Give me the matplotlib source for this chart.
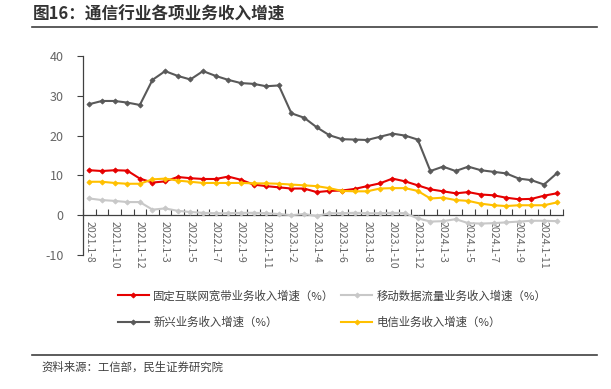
import matplotlib
matplotlib.use("Agg")
import matplotlib.pyplot as plt
from matplotlib.lines import Line2D
import numpy as np

plt.rcParams['font.family'] = ['Noto Sans CJK SC', 'DejaVu Sans']
plt.rcParams['axes.unicode_minus'] = False

categories = (['2021.1-%d' % m for m in range(8, 13)] +
              ['2022.1-%d' % m for m in range(2, 13)] +
              ['2023.1-%d' % m for m in range(2, 13)] +
              ['2024.1-%d' % m for m in range(2, 13)])

broadband = [11.3, 11.1, 11.3, 11.2, 9.2, 8.2, 8.5, 9.6, 9.3, 9.1, 9.1, 9.7, 8.9,
             7.7, 7.3, 7.0, 6.7, 6.7, 5.8, 6.1, 6.2, 6.6, 7.3, 8.0, 9.2, 8.5,
             7.5, 6.5, 6.0, 5.5, 5.8, 5.2, 5.0, 4.4, 4.0, 4.1, 4.9, 5.5]
mobile_data = [4.2, 3.8, 3.6, 3.3, 3.3, 1.4, 1.7, 1.1, 0.8, 0.6, 0.5, 0.5, 0.6,
               0.6, 0.5, 0.3, 0.0, 0.3, -0.2, 0.5, 0.5, 0.6, 0.5, 0.5, 0.6, 0.5,
               -0.8, -1.6, -1.5, -1.0, -2.0, -2.1, -2.0, -1.8, -1.6, -1.4, -1.4, -1.5]
emerging = [27.9, 28.7, 28.7, 28.3, 27.7, 34.0, 36.2, 35.0, 34.1, 36.2, 35.0, 34.0,
            33.2, 33.0, 32.4, 32.6, 25.6, 24.5, 22.1, 20.1, 19.1, 19.0, 18.9, 19.7,
            20.5, 20.0, 19.0, 11.1, 12.2, 11.1, 12.2, 11.3, 10.9, 10.5, 9.2, 8.8,
            7.7, 10.5]
telecom = [8.4, 8.4, 8.1, 7.9, 7.9, 9.0, 9.2, 8.7, 8.4, 8.1, 8.1, 8.1, 8.1,
           8.0, 8.0, 7.9, 7.7, 7.5, 7.3, 6.8, 6.1, 6.0, 6.0, 6.7, 6.8, 6.8,
           6.1, 4.2, 4.4, 3.8, 3.6, 2.9, 2.5, 2.3, 2.5, 2.5, 2.5, 3.2]

series_names = ['固定互联网宽带业务收入增速（%）', '移动数据流量业务收入增速（%）',
                '新兴业务收入增速（%）', '电信业务收入增速（%）']
series_values = [broadband, mobile_data, emerging, telecom]
series_colors = ['#E60000', '#C8C8C8', '#595959', '#FFC000']

yticks = [-10, 0, 10, 20, 30, 40]

fig = plt.figure(figsize=(6.11, 3.89), dpi=100)
ax = fig.add_axes([83/611, 1-255/389, (563-83)/611, (255-56)/389])

x = np.arange(len(categories))
order = [1, 0, 2, 3]
handles = {}
for i in order:
    ln, = ax.plot(x, series_values[i], color=series_colors[i], lw=1.5,
                  marker='D', markersize=2.6, markeredgewidth=0.6,
                  label=series_names[i], zorder=3+i)
    handles[i] = ln

ax.set_xlim(-0.5, len(categories)-0.5)
ax.set_ylim(-10, 40)
ax.set_yticks(yticks)
ax.set_yticklabels([str(v) for v in yticks])

for s in ['top', 'right']:
    ax.spines[s].set_visible(False)
ax.spines['bottom'].set_position(('data', 0))
ax.spines['bottom'].set_color('#404040')
ax.spines['left'].set_color('#404040')
ax.spines['bottom'].set_linewidth(0.9)
ax.spines['left'].set_linewidth(0.9)

ax.set_xticks(x[::2])
ax.set_xticklabels(categories[::2], rotation=-90, fontsize=7.6, color='#666666')
ax.set_xticks(np.arange(len(categories)+1) - 0.5, minor=True)
ax.tick_params(axis='x', which='major', length=0, pad=4)
ax.tick_params(axis='x', which='minor', direction='in', length=4, color='#404040', width=0.8)
ax.tick_params(axis='y', which='major', direction='out', length=4, color='#404040',
               width=0.8, labelsize=9, labelcolor='#666666', pad=10)

leg = fig.legend([handles[0], handles[2], handles[1], handles[3]],
                 [series_names[0], series_names[2], series_names[1], series_names[3]],
                 ncol=2, loc='upper left', bbox_to_anchor=(118/611, 1-290/389),
                 frameon=False, fontsize=8.2, handlelength=2.7, handletextpad=0.4,
                 columnspacing=0.6, labelspacing=1.3, borderaxespad=0, borderpad=0)
for t in leg.get_texts():
    t.set_color('#404040')

fig.text(33/611, 1-15/389, '图16：通信行业各项业务收入增速', fontsize=12, fontweight='bold',
         color='#333333', va='center', ha='left')
fig.add_artist(Line2D([32/611, 597/611], [1-27/389, 1-27/389], color='#404040', lw=1.2))
fig.add_artist(Line2D([32/611, 597/611], [1-355/389, 1-355/389], color='#404040', lw=1.2))
fig.text(41/611, 1-367/389, '资料来源：工信部，民生证券研究院', fontsize=8.2,
         color='#404040', va='center', ha='left')

fig.savefig('out.png', dpi=100)
